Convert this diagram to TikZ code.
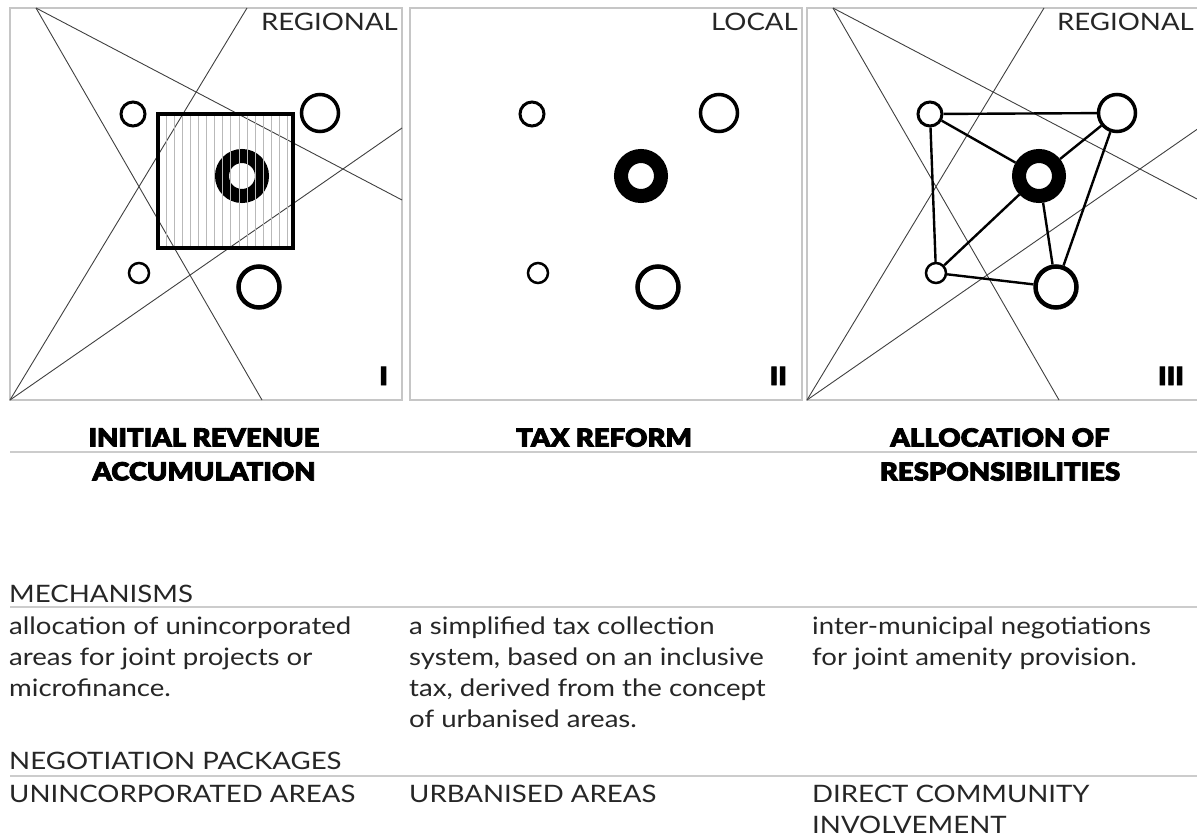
\documentclass[tikz,border=0pt]{standalone}
\usepackage{fontspec}
\setmainfont{Lato}[FakeStretch=1.15]
\newfontfamily\heavyfont{Lato Black}[FakeStretch=1.1, FakeBold=3]

\tikzset{
  frame/.style={draw=gray!45, line width=1.2pt},
  ray/.style={draw=black!75, line width=.9pt},
  ring/.style={circle, draw, fill=white, inner sep=0pt},
  hatch/.style={draw=gray!55, line width=.8pt},
  link/.style={line width=2.4pt},
  rule/.style={draw=gray!40, line width=1.8pt},
  scaletag/.style={anchor=base east, inner sep=0pt, text=black!85, font=\fontsize{24}{24}\selectfont},
  numeral/.style={anchor=base east, inner sep=0pt, font=\fontsize{25}{25}\heavyfont},
  title/.style={anchor=north, align=center, inner sep=0pt, font=\fontsize{25}{34}\heavyfont},
  head/.style={anchor=base west, inner sep=0pt, text=black!85, font=\fontsize{24}{31}\selectfont},
  body/.style={anchor=north west, align=left, inner sep=0pt, text=black!85, font=\fontsize{24}{31}\selectfont},
}

\begin{document}
\begin{tikzpicture}[x=1pt, y=-1pt]
  \useasboundingbox (0,0) rectangle (1197,839);

  % three panels
  \foreach \x in {0,400,797}
    \draw[frame] (\x+10,8) rectangle (\x+402,400);
  \foreach \x in {0,797} {
    \draw[ray] (\x+36,8) -- (\x+262,400);
    \draw[ray] (\x+36,8) -- (\x+402,200);
    \draw[ray] (\x+10,400) -- (\x+247,8);
    \draw[ray] (\x+10,400) -- (\x+402,128);
  }

  % I
  \node[ring, line width=3pt, minimum size=24pt] (atl) at (133,114) {};
  \node[ring, line width=3.5pt, minimum size=37pt] (atr) at (320,113) {};
  \node[ring, line width=14pt, minimum size=40pt] (amid) at (242,176) {};
  \node[ring, line width=2.5pt, minimum size=20pt] (abl) at (139,273) {};
  \node[ring, line width=4.5pt, minimum size=41pt] (abr) at (259,287) {};
  \foreach \k in {0,...,15}
    \draw[hatch] (166+\k*8.1,116) -- (166+\k*8.1,246);
  \draw[line width=4pt] (158,114) rectangle (293,248);
  \node[scaletag] (tag1) at (398,30) {REGIONAL};
  \node[numeral] (num1) at (388,385) {I};

  % II
  \node[ring, line width=3pt, minimum size=24pt] (btl) at (532,114) {};
  \node[ring, line width=3.5pt, minimum size=37pt] (btr) at (719,113) {};
  \node[ring, line width=14pt, minimum size=40pt] (bmid) at (641,176) {};
  \node[ring, line width=2.5pt, minimum size=20pt] (bbl) at (538,273) {};
  \node[ring, line width=4.5pt, minimum size=41pt] (bbr) at (658,287) {};
  \node[scaletag] (tag2) at (798,30) {LOCAL};
  \node[numeral] (num2) at (787,385) {II};

  % III
  \node[ring, line width=3pt, minimum size=24pt] (ctl) at (930,114) {};
  \node[ring, line width=3.5pt, minimum size=37pt] (ctr) at (1117,113) {};
  \node[ring, line width=14pt, minimum size=40pt] (cmid) at (1039,176) {};
  \node[ring, line width=2.5pt, minimum size=20pt] (cbl) at (936,273) {};
  \node[ring, line width=4.5pt, minimum size=41pt] (cbr) at (1056,287) {};
  \draw[link] (ctl) -- (ctr);
  \draw[link] (ctl) -- (cmid);
  \draw[link] (ctl) -- (cbl);
  \draw[link] (ctr) -- (cmid);
  \draw[link] (ctr) -- (cbr);
  \draw[link] (cmid) -- (cbl);
  \draw[link] (cmid) -- (cbr);
  \draw[link] (cbl) -- (cbr);
  \node[scaletag] (tag3) at (1194,30) {REGIONAL};
  \node[numeral] (num3) at (1184,385) {III};

  % titles
  \draw[rule] (10,452) -- (1197,452);
  \node[title] (title1) at (204,428) {INITIAL REVENUE\\ACCUMULATION};
  \node[title] (title2) at (604,428) {TAX REFORM};
  \node[title] (title3) at (1000,428) {ALLOCATION OF\\RESPONSIBILITIES};

  % table
  \node[head] (mech) at (9,602) {MECHANISMS};
  \draw[rule] (10,607) -- (1197,607);
  \node[body] (mech1) at (9,617) {allocation of unincorporated\\areas for joint projects or\\microfinance.};
  \node[body] (mech2) at (409,617) {a simplified tax collection\\system, based on an inclusive\\tax, derived from the concept\\of urbanised areas.};
  \node[body] (mech3) at (812,617) {inter-municipal negotiations\\for joint amenity provision.};

  \node[head] (pack) at (9,769) {NEGOTIATION PACKAGES};
  \draw[rule] (10,776) -- (1197,776);
  \node[head] (pack1) at (9,802) {UNINCORPORATED AREAS};
  \node[head] (pack2) at (409,802) {URBANISED AREAS};
  \node[body] (pack3) at (812,785) {DIRECT COMMUNITY\\INVOLVEMENT};
\end{tikzpicture}
\end{document}
